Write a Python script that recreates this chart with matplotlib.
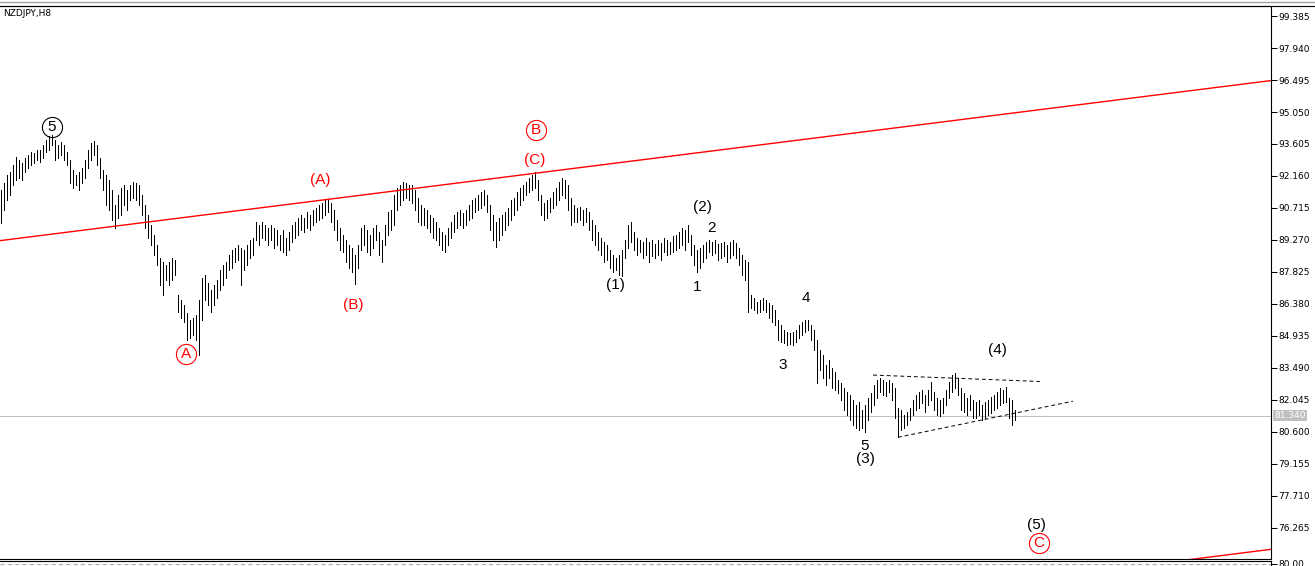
import numpy as np
import matplotlib
matplotlib.use("Agg")
import matplotlib.pyplot as plt
from matplotlib.lines import Line2D
from matplotlib import transforms

# NZDJPY H8 bars (high / low) from left to right
highs = [
    91.53, 91.84, 92.20, 92.34, 92.66, 93.02, 92.88, 92.75, 92.97, 93.11,
    93.24, 93.20, 93.33, 93.33, 93.56, 93.79, 93.97, 94.01, 93.79, 93.56,
    93.70, 93.56, 93.24, 92.88, 92.43, 92.20, 92.34, 92.52, 92.88, 93.33,
    93.65, 93.74, 93.56, 92.97, 92.43, 92.20, 91.98, 91.53, 90.85, 91.30,
    91.62, 91.75, 91.53, 91.75, 91.89, 91.84, 91.75, 91.30, 90.85, 90.40,
    89.95, 89.50, 89.04, 88.46, 88.28, 88.14, 88.28, 88.46, 88.37, 86.79,
    86.56, 86.33, 85.97, 85.66, 85.75, 85.88, 86.56, 87.55, 87.69, 87.33,
    87.01, 87.24, 87.46, 87.92, 88.14, 88.28, 88.59, 88.82, 88.91, 89.04,
    88.91, 88.82, 89.04, 89.27, 89.36, 90.08, 89.95, 90.08, 89.95, 89.81,
    89.95, 89.81, 89.72, 89.50, 89.72, 89.36, 89.63, 89.95, 90.08, 90.26,
    90.40, 90.26, 90.53, 90.40, 90.62, 90.71, 90.85, 90.94, 91.08, 91.12,
    90.94, 90.62, 90.17, 89.81, 89.50, 89.27, 89.04, 88.91, 88.59, 89.04,
    89.81, 89.95, 89.72, 89.50, 89.81, 89.95, 89.63, 89.27, 89.95, 90.53,
    90.62, 91.30, 91.62, 91.75, 91.89, 91.84, 91.75, 91.75, 91.53, 91.17,
    90.85, 90.71, 90.62, 90.40, 90.26, 90.08, 89.81, 89.63, 89.50, 89.81,
    90.08, 90.40, 90.53, 90.62, 90.49, 90.62, 90.85, 91.08, 91.17, 91.30,
    91.44, 91.53, 91.30, 90.85, 90.40, 90.08, 90.26, 90.40, 90.53, 90.71,
    91.08, 91.17, 91.44, 91.62, 91.75, 91.89, 92.07, 92.20, 92.34, 91.98,
    91.30, 90.94, 91.08, 91.17, 91.44, 91.62, 91.89, 92.07, 91.98, 91.75,
    91.17, 90.85, 90.71, 90.76, 90.62, 90.71, 90.53, 90.17, 89.95, 89.63,
    89.36, 89.18, 89.04, 88.82, 88.59, 88.46, 88.59, 88.82, 89.27, 89.95,
    90.08, 89.63, 89.36, 89.27, 89.18, 89.36, 89.18, 89.27, 89.09, 89.27,
    89.13, 89.36, 89.27, 89.18, 89.45, 89.50, 89.63, 89.81, 89.72, 89.95,
    89.50, 89.04, 88.82, 88.91, 89.04, 89.18, 89.27, 89.18, 89.27, 89.09,
    89.13, 89.18, 89.04, 89.18, 89.27, 89.13, 88.91, 88.59, 88.37, 88.28,
    86.79, 86.65, 86.47, 86.56, 86.65, 86.56, 86.42, 86.33, 86.11, 85.66,
    85.43, 85.21, 85.12, 85.07, 85.12, 85.21, 85.43, 85.57, 85.66, 85.66,
    85.43, 85.21, 84.75, 84.30, 84.08, 83.63, 83.85, 83.49, 83.31, 82.95,
    82.81, 82.59, 82.41, 82.27, 82.05, 81.82, 81.95, 81.59, 81.82, 82.14,
    82.36, 82.72, 82.95, 83.04, 82.95, 82.86, 82.95, 82.81, 82.59, 81.68,
    81.59, 81.37, 81.50, 81.68, 82.05, 82.27, 82.41, 82.50, 82.27, 82.50,
    82.86, 82.41, 82.14, 82.05, 82.14, 82.50, 82.86, 83.17, 83.26, 83.04,
    82.59, 82.36, 82.14, 82.27, 82.05, 81.95, 82.05, 81.82, 81.95, 82.05,
    82.18, 82.27, 82.41, 82.59, 82.50, 82.63, 82.14, 82.05, 81.59,
]
lows = [
    90.04, 90.62, 91.08, 91.30, 91.75, 91.98, 92.07, 91.98, 92.34, 92.52,
    92.66, 92.75, 92.88, 92.79, 92.97, 93.24, 93.33, 93.56, 92.88, 92.97,
    93.11, 92.88, 92.66, 91.84, 91.62, 91.75, 91.53, 91.84, 92.07, 92.52,
    92.88, 93.11, 92.66, 92.07, 91.53, 90.85, 90.62, 90.17, 89.81, 90.26,
    90.40, 90.85, 90.62, 91.08, 91.17, 91.08, 90.85, 90.40, 89.81, 89.36,
    89.04, 88.59, 88.14, 87.24, 86.79, 87.46, 87.24, 87.46, 87.69, 86.02,
    85.75, 85.57, 84.75, 84.84, 84.98, 84.75, 84.08, 85.66, 86.56, 86.33,
    86.02, 86.33, 86.65, 87.01, 87.24, 87.55, 87.92, 88.01, 88.28, 88.37,
    87.24, 87.92, 88.14, 88.46, 88.59, 89.27, 89.04, 89.36, 89.27, 89.04,
    89.27, 88.91, 89.04, 88.82, 88.73, 88.59, 88.82, 89.18, 89.36, 89.50,
    89.72, 89.63, 89.81, 89.72, 89.95, 90.08, 90.17, 90.26, 90.40, 90.53,
    90.08, 89.72, 89.27, 88.82, 88.73, 88.28, 88.01, 87.82, 87.28, 88.01,
    88.82, 89.04, 88.73, 88.59, 88.91, 89.27, 88.59, 88.28, 89.04, 89.50,
    89.72, 89.95, 90.62, 90.85, 91.08, 91.17, 91.08, 90.94, 90.62, 90.08,
    89.95, 89.95, 89.81, 89.63, 89.36, 89.27, 89.04, 88.82, 88.73, 89.04,
    89.36, 89.63, 89.81, 89.95, 89.81, 89.95, 90.17, 90.26, 90.53, 90.62,
    90.71, 90.85, 90.53, 89.72, 89.27, 88.95, 89.27, 89.50, 89.72, 89.95,
    90.17, 90.40, 90.62, 90.85, 91.08, 91.30, 91.44, 91.53, 91.62, 91.08,
    90.40, 90.17, 90.26, 90.53, 90.71, 90.85, 91.08, 91.30, 91.17, 90.62,
    89.95, 90.08, 90.08, 90.17, 89.95, 90.08, 89.72, 89.27, 89.04, 88.82,
    88.59, 88.28, 88.37, 88.01, 87.82, 87.92, 87.69, 87.64, 88.46, 88.91,
    89.18, 88.82, 88.59, 88.73, 88.46, 88.59, 88.28, 88.55, 88.46, 88.59,
    88.37, 88.73, 88.59, 88.64, 88.73, 88.82, 88.91, 89.04, 88.82, 89.18,
    88.59, 88.14, 87.82, 88.01, 88.28, 88.46, 88.73, 88.59, 88.68, 88.37,
    88.46, 88.55, 88.28, 88.46, 88.59, 88.46, 88.14, 87.69, 87.46, 86.02,
    86.20, 86.11, 85.97, 86.02, 86.11, 86.02, 85.75, 85.57, 85.43, 84.75,
    84.66, 84.62, 84.53, 84.57, 84.53, 84.66, 84.84, 84.98, 85.12, 85.21,
    84.75, 84.30, 82.81, 83.40, 83.04, 82.72, 83.04, 82.59, 82.50, 82.36,
    82.05, 81.59, 81.37, 81.14, 80.92, 80.78, 80.69, 80.78, 80.60, 81.14,
    81.50, 81.82, 82.14, 82.41, 82.27, 82.23, 82.41, 82.05, 81.23, 80.37,
    80.69, 80.78, 80.92, 81.14, 81.37, 81.59, 81.68, 81.91, 81.50, 81.82,
    82.05, 81.59, 81.37, 81.32, 81.46, 81.82, 82.14, 82.41, 82.59, 82.27,
    81.59, 81.50, 81.37, 81.59, 81.23, 81.23, 81.37, 81.14, 81.23, 81.37,
    81.46, 81.59, 81.68, 81.82, 81.91, 81.95, 81.23, 80.92, 81.14,
]
last_price = 81.340
price_ticks = [99.385, 97.940, 96.495, 95.050, 93.605, 92.160, 90.715, 89.270,
               87.825, 86.380, 84.935, 83.490, 82.045, 80.600, 79.155, 77.710, 76.265]

# trend channel (red) and triangle (dotted) in bar index / price
trend_x = [-0.33, 423.33]
trend_y = [89.24, 96.47]
channel_gap = 21.17
tri_up_x, tri_up_y = [290.7, 346.3], [83.17, 82.88]
tri_lo_x, tri_lo_y = [299.0, 357.3], [80.36, 81.99]

# wave labels: text, bar index, price, colour, circled
wave_labels = [
    ("5", 17.0, 94.37, "black", True),
    ("A", 61.7, 84.12, "red", True),
    ("(A)", 106.3, 91.98, "red", False),
    ("(B)", 117.3, 86.33, "red", False),
    ("B", 178.3, 94.24, "red", True),
    ("(C)", 178.0, 92.88, "red", False),
    ("(1)", 204.7, 87.24, "black", False),
    ("(2)", 233.7, 90.76, "black", False),
    ("2", 236.7, 89.81, "black", False),
    ("1", 232.0, 87.15, "black", False),
    ("4", 268.3, 86.65, "black", False),
    ("3", 260.7, 83.62, "black", False),
    ("5", 288.0, 79.97, "black", False),
    ("(3)", 288.3, 79.38, "black", False),
    ("(4)", 332.0, 84.30, "black", False),
    ("(5)", 345.0, 76.40, "black", False),
    ("C", 346.0, 75.59, "red", True),
]

W, H = 1315, 566
fig = plt.figure(figsize=(W / 100, H / 100), dpi=100)
ax = fig.add_axes([0, 1 - 558.5 / H, 1271 / W, (558.5 - 6) / H])

x = np.arange(len(highs))
ax.vlines(x, lows, highs, color="black", lw=0.7, antialiased=False)

ax.set_xlim(-1 / 3, 423.33)
ax.set_ylim(74.886, 99.837)

ax.axhline(last_price, color="#c0c0c0", lw=0.75, zorder=0)

ax.plot(trend_x, trend_y, color="red", lw=1.0)
ax.plot(trend_x, [v - channel_gap for v in trend_y], color="red", lw=1.0)
ax.plot(tri_up_x, tri_up_y, color="black", lw=0.7, dashes=(4, 3))
ax.plot(tri_lo_x, tri_lo_y, color="black", lw=0.7, dashes=(4, 3))

for txt, xi, yp, col, circ in wave_labels:
    ax.text(xi, yp, txt, color=col, fontsize=11, family="Liberation Sans",
            ha="center", va="center")
    if circ:
        ax.plot([xi], [yp], marker="o", ms=14.5, mfc="none", mec=col, mew=0.8)

ax.spines["left"].set_visible(False)
for side in ["top", "right", "bottom"]:
    ax.spines[side].set_color("black")
    ax.spines[side].set_linewidth(0.8)

ax.set_xticks([])
ax.yaxis.tick_right()
ax.set_yticks(price_ticks)
ax.set_yticklabels([f"{v:.3f}" for v in price_ticks])
ax.tick_params(axis="y", direction="out", length=4, width=0.75, pad=1,
               labelsize=6.5, colors="black")

tr = transforms.blended_transform_factory(ax.transAxes, ax.transData)
ax.text(1.0025, last_price, f"{last_price:.3f}", transform=tr, color="white",
        fontsize=6.5, ha="left", va="center",
        bbox=dict(boxstyle="square,pad=0.15", fc="#c0c0c0", ec="none"))

# small indicator window below (mostly cut off)
ax2 = fig.add_axes([0, -8 / H, 1271 / W, 13 / H])
ax2.set_xlim(0, 1)
ax2.set_ylim(0, 100)
ax2.axhline(80, color="#a8a8a8", lw=0.75, dashes=(4, 3))
ax2.spines["left"].set_visible(False)
ax2.spines["bottom"].set_visible(False)
ax2.set_xticks([])
ax2.yaxis.tick_right()
ax2.set_yticks([80])
ax2.set_yticklabels(["80.00"])
ax2.tick_params(axis="y", direction="out", length=4, width=0.75, pad=1,
                labelsize=6.5)

fig.add_artist(Line2D([0, 1], [1 - 1.5 / H] * 2, color="#a0a0a0", lw=1.0))
fig.add_artist(Line2D([0, 1], [1 - 6 / H] * 2, color="black", lw=0.8))
fig.text(3 / W, 1 - 14 / H, "NZDJPY,H8", fontsize=6.5, va="center", ha="left")

fig.savefig("out.png", dpi=100)
